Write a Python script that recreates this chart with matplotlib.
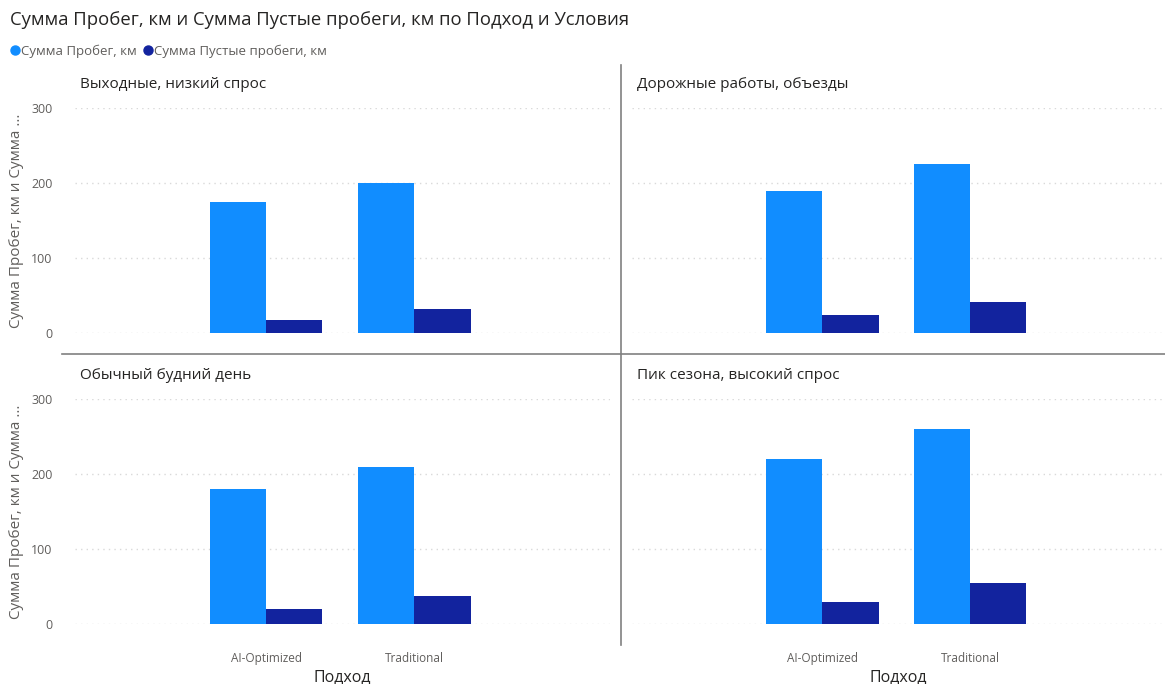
"""Small-multiples bar chart: mileage and empty mileage by approach and conditions."""
import matplotlib

matplotlib.use("Agg")
import matplotlib.pyplot as plt
import numpy as np
from matplotlib.lines import Line2D

plt.rcParams["font.family"] = ["Open Sans", "DejaVu Sans"]

W, H = 1165, 684

conditions = [
    "Выходные, низкий спрос",
    "Дорожные работы, объезды",
    "Обычный будний день",
    "Пик сезона, высокий спрос",
]
approaches = ["AI-Optimized", "Traditional"]
mileage = [[175, 200], [190, 225], [180, 210], [220, 260]]
empty_mileage = [[18, 32], [24, 42], [20, 38], [30, 55]]
y_ticks = [0, 100, 200, 300]

series_names = ["Сумма Пробег, км", "Сумма Пустые пробеги, км"]
colors = ["#118DFF", "#12239E"]
TEXT_DARK = "#252423"
TEXT_GRAY = "#605E5C"
GRID = "#D9D9D9"


def px_axes(fig, x0, y0, x1, y1):
    """Add axes given pixel box (top-left origin)."""
    return fig.add_axes([x0 / W, 1 - y1 / H, (x1 - x0) / W, (y1 - y0) / H])


fig = plt.figure(figsize=(W / 100, H / 100), dpi=100)

# panel boxes in pixels: (left, top(300), right, bottom(0))
boxes = [
    (75, 108, 610, 333),
    (632, 108, 1165, 333),
    (75, 399, 610, 624),
    (632, 399, 1165, 624),
]

x = np.arange(len(approaches))
bw = 0.38
for i, (cond, box) in enumerate(zip(conditions, boxes)):
    ax = px_axes(fig, *box)
    ax.bar(x - bw / 2, mileage[i], bw, color=colors[0], zorder=3)
    ax.bar(x + bw / 2, empty_mileage[i], bw, color=colors[1], zorder=3)
    ax.set_xlim(-1.29, 2.32)
    ax.set_ylim(0, 300)
    ax.set_yticks(y_ticks)
    ax.grid(axis="y", color=GRID, linestyle=(0, (1, 3)), linewidth=1, zorder=0)
    for s in ax.spines.values():
        s.set_visible(False)
    ax.tick_params(length=0, colors=TEXT_GRAY)
    ax.set_xticks(x)
    if i % 2 == 0:
        ax.set_yticklabels([str(v) for v in y_ticks], fontsize=9)
        ax.tick_params(axis="y", pad=16)
        ax.set_ylabel("Сумма Пробег, км и Сумма ...", fontsize=11, color=TEXT_GRAY)
        ax.yaxis.set_label_coords(-0.095, 0.5)
    else:
        ax.set_yticklabels([])
    if i >= 2:
        ax.set_xticklabels(approaches, fontsize=8.5, color=TEXT_GRAY)
        ax.tick_params(axis="x", pad=20)
        ax.set_xlabel("Подход", fontsize=11.5, color=TEXT_DARK, labelpad=3)
    else:
        ax.set_xticklabels([])
    ax.text(5 / (box[2] - box[0]), 1.0 + 23 / (box[3] - box[1]), cond,
            transform=ax.transAxes, fontsize=11, color=TEXT_DARK,
            ha="left", va="center")

# panel dividers
fig.add_artist(Line2D([621 / W, 621 / W], [1 - 65 / H, 1 - 645 / H],
                      color="#808080", linewidth=1.2))
fig.add_artist(Line2D([62 / W, 1], [1 - 354 / H, 1 - 354 / H],
                      color="#808080", linewidth=1.2))

fig.text(10 / W, 1 - 20 / H, "Сумма Пробег, км и Сумма Пустые пробеги, км по Подход и Условия",
         fontsize=13.3, color=TEXT_DARK, ha="left", va="center")

handles = [Line2D([], [], marker="o", linestyle="", color=c, markersize=6.5) for c in colors]
fig.legend(handles, series_names, loc="center left", bbox_to_anchor=(3 / W, 1 - 51 / H),
           ncol=2, frameon=False, fontsize=9.5, labelcolor=TEXT_GRAY,
           handletextpad=0.0, columnspacing=0.3, handlelength=1.0, borderaxespad=0)

fig.savefig("out.png", dpi=100, facecolor="white")
